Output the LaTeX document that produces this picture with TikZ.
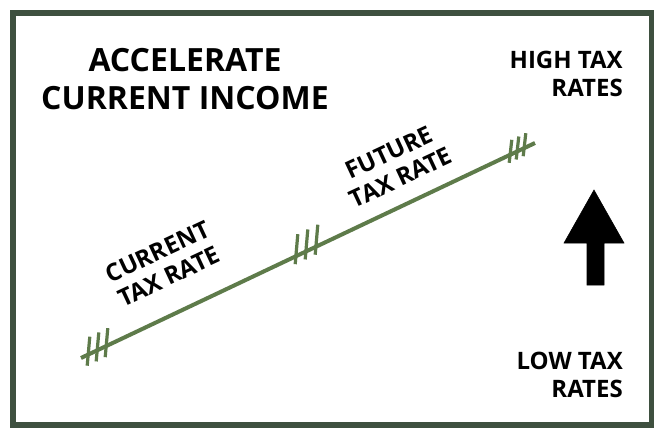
\documentclass[tikz,border=0pt]{standalone}
\usepackage{fontspec}
\setmainfont{Open Sans}
\definecolor{framecol}{RGB}{62,80,63}
\definecolor{ratecol}{RGB}{94,123,74}
\tikzset{
	biglbl/.style={font=\bfseries\fontsize{24}{28.5}\selectfont, inner sep=0.75pt, align=center},
	lbl/.style={font=\bfseries\fontsize{18}{20.5}\selectfont, inner sep=0.75pt},
	rateline/.style={color=ratecol, line width=3pt},
	ratetick/.style={color=ratecol, line width=2.4pt}
}
\begin{document}
\begin{tikzpicture}[x=0.75pt,y=0.75pt,yscale=-1,xscale=1]
	\useasboundingbox (0,0) rectangle (654,428);
	\draw [color=framecol, line width=4.5pt] (13,13) rectangle (652,425);

	\coordinate (lo) at (81,358);
	\coordinate (hi) at (535,143);
	\draw [rateline] (lo) -- (hi);
	\foreach \cx/\up/\dn/\sp in {97/18/11/9, 306/22/8/10, 517/15/8/7}
		\foreach \k in {-1,0,1} {
			\pgfmathsetmacro{\tx}{\cx+\k*\sp}
			\pgfmathsetmacro{\ty}{358-0.4736*(\tx-81)}
			\draw [ratetick] ({\tx+1.8},{\ty-\up}) -- ({\tx-0.8},{\ty+\dn});
		}

	\draw [fill=black] (594,190) -- (624,243) -- (604,243) -- (604,285) -- (587,285) -- (587,243) -- (564,243) -- cycle;

	\node [biglbl] (title) at (185,79) {ACCELERATE\\CURRENT INCOME};
	\node [lbl, anchor=east, align=right] (high) at (624,74) {HIGH TAX\\RATES};
	\node [lbl, anchor=east, align=right] (low) at (624,375) {LOW TAX\\RATES};
	\node [lbl, align=center, rotate=25] (curr) at (163,264) {CURRENT\\TAX RATE};
	\node [lbl, align=center, rotate=25] (fut) at (395,165) {FUTURE\\TAX RATE};
\end{tikzpicture}
\end{document}
